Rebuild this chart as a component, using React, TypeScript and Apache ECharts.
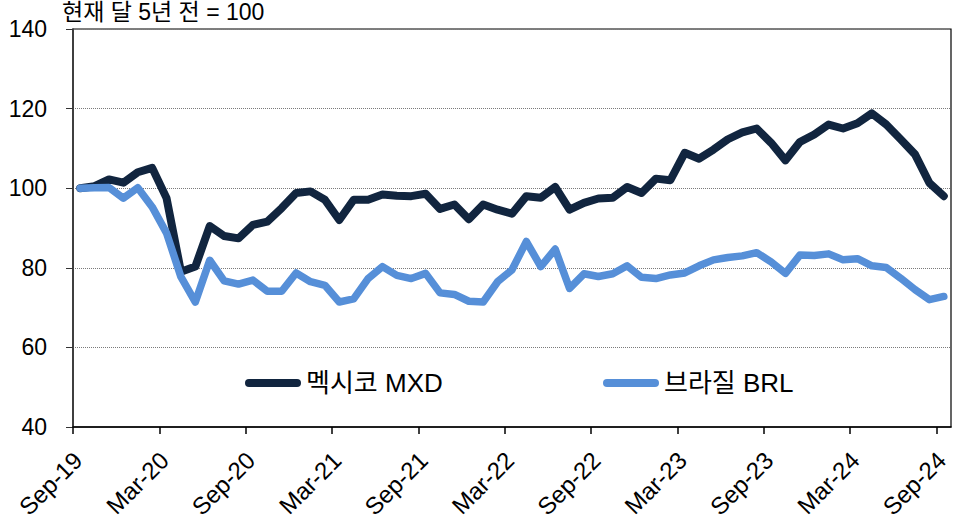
import React, { useEffect, useRef } from "react";
import * as echarts from "echarts";

const MONTHS = ["Jan", "Feb", "Mar", "Apr", "May", "Jun", "Jul", "Aug", "Sep", "Oct", "Nov", "Dec"];
// Monthly categories Sep-19 .. Sep-24 (61 months)
const categories: string[] = [];
for (let k = 0; k < 61; k++) {
  const m = (8 + k) % 12;
  const y = 19 + Math.floor((8 + k) / 12);
  categories.push(`${MONTHS[m]}-${y}`);
}
// Boundary categories for the tick/label axis (one more than data)
const boundaryCats = [...categories, "Oct-24"];
const tickLabels = ["Sep-19", "Mar-20", "Sep-20", "Mar-21", "Sep-21", "Mar-22", "Sep-22", "Mar-23", "Sep-23", "Mar-24", "Sep-24"];

const mxdValues = [
  100, 100.5, 102.2, 101.4, 104, 105.1, 97.5, 79, 80.3, 90.5, 88, 87.4, 90.8, 91.6, 95,
  98.8, 99.2, 97.1, 92, 97.1, 97.1, 98.4, 98.1, 98, 98.6, 94.8, 95.9, 92.2, 95.9, 94.6, 93.6,
  98, 97.6, 100.3, 94.6, 96.3, 97.4, 97.6, 100.3, 98.8, 102.4, 102, 108.9, 107.4, 109.7,
  112.3, 114, 115, 111.4, 107, 111.6, 113.5, 116, 115, 116.3, 118.8, 116, 112.3, 108.5, 101.3, 98,
];
const brlValues = [
  100, 100.1, 100.2, 97.5, 100.1, 95.3, 88.7, 77.7, 71.4, 81.9, 76.7, 75.9, 76.9, 74.1, 74.1,
  78.7, 76.5, 75.6, 71.4, 72.2, 77.3, 80.3, 78.1, 77.3, 78.6, 73.7, 73.3, 71.6, 71.4, 76.5, 79.5,
  86.6, 80.3, 84.7, 74.8, 78.5, 77.8, 78.5, 80.5, 77.6, 77.3, 78.2, 78.7, 80.5, 82,
  82.6, 83, 83.8, 81.5, 78.6, 83.2, 83.1, 83.5, 82, 82.3, 80.5, 80.1, 77.4, 74.5, 72, 72.8,
];

const seriesNames = ["멕시코 MXD", "브라질 BRL"];
const titleText = "현재 달 5년 전 = 100";

const FONT = '"Liberation Sans", Arial, "Noto Sans CJK KR", sans-serif';
const NAVY = "#11253f";
const BLUE = "#568fd8";
const PILL = "path://M4 0H52A4 4 0 0 1 52 8H4A4 4 0 0 1 4 0Z";

export default function App() {
  const ref = useRef<HTMLDivElement>(null);
  useEffect(() => {
    if (!ref.current) return;
    const chart = echarts.init(ref.current, undefined, { renderer: "svg" });
    chart.setOption({
      animation: false,
      backgroundColor: "#ffffff",
      textStyle: { fontFamily: FONT },
      title: {
        text: titleText,
        left: 62,
        top: 0,
        padding: 0,
        textStyle: { fontSize: 23, fontWeight: "normal", color: "#000", fontFamily: FONT },
      },
      grid: {
        left: 73,
        right: 6,
        top: 29,
        bottom: 95,
        show: true,
        borderColor: "#000",
        borderWidth: 1.2,
        backgroundColor: "transparent",
      },
      legend: [
        {
          data: [seriesNames[0]],
          left: 245,
          top: 370,
          padding: 0,
          icon: PILL,
          itemWidth: 56,
          itemHeight: 8,
          textStyle: { fontSize: 26, color: "#000", fontFamily: FONT },
        },
        {
          data: [seriesNames[1]],
          left: 603,
          top: 370,
          padding: 0,
          icon: PILL,
          itemWidth: 56,
          itemHeight: 8,
          textStyle: { fontSize: 26, color: "#000", fontFamily: FONT },
        },
      ],
      xAxis: [
        {
          type: "category",
          data: categories,
          boundaryGap: true,
          show: false,
        },
        {
          type: "category",
          data: boundaryCats,
          boundaryGap: false,
          position: "bottom",
          axisLine: { show: true, lineStyle: { color: "#000", width: 1.5 } },
          axisTick: { show: true, interval: 5, length: 7, lineStyle: { color: "#000", width: 1.5 } },
          axisLabel: {
            interval: 5,
            rotate: 45,
            margin: 34,
            fontSize: 24,
            padding: [0, -7, 0, 0],
            color: "#000",
            fontFamily: FONT,
            formatter: (v: string) => (tickLabels.includes(v) ? v : ""),
          },
          splitLine: { show: false },
        },
      ],
      yAxis: {
        type: "value",
        min: 40,
        max: 140,
        interval: 20,
        axisLine: { show: true, lineStyle: { color: "#333", width: 1.5 } },
        axisTick: { show: true, inside: false, length: 7, lineStyle: { color: "#333" } },
        axisLabel: { margin: 26, fontSize: 23, color: "#000", fontFamily: FONT },
        splitLine: { show: true, lineStyle: { color: "#7a7a7a", type: "dotted", width: 1 } },
      },
      series: [
        {
          name: seriesNames[0],
          type: "line",
          xAxisIndex: 0,
          data: mxdValues,
          symbol: "none",
          color: NAVY,
          lineStyle: { color: NAVY, width: 8, cap: "round", join: "round" },
          itemStyle: { color: NAVY },
        },
        {
          name: seriesNames[1],
          type: "line",
          xAxisIndex: 0,
          data: brlValues,
          symbol: "none",
          color: BLUE,
          lineStyle: { color: BLUE, width: 7.5, cap: "round", join: "round" },
          itemStyle: { color: BLUE },
        },
      ],
    });
    return () => chart.dispose();
  }, []);
  return <div ref={ref} style={{ width: 957, height: 522, position: "absolute", left: 0, top: 0 }} />;
}
